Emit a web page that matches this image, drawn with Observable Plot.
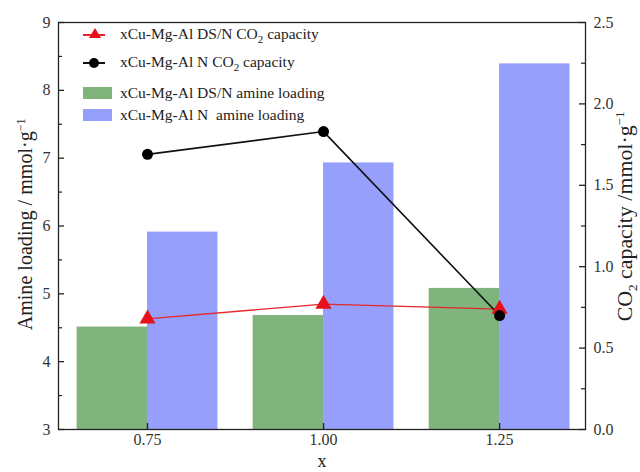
<!DOCTYPE html>
<html>
<head>
<meta charset="utf-8">
<script src="https://cdn.jsdelivr.net/npm/d3@7"></script>
<script src="https://cdn.jsdelivr.net/npm/@observablehq/plot@0.6"></script>
<style>
  html, body { margin: 0; padding: 0; background: #fff; }
  #wrap { position: relative; width: 640px; height: 472px; font-family: "Liberation Serif", "DejaVu Serif", serif; }
  #legend { position: absolute; left: 82px; top: 0px; font-size: 15.5px; color: #222; }
  .row { position: absolute; left: 0; white-space: nowrap; display: flex; align-items: center; height: 20px; }
  .row svg { margin-right: 7px; }
  .ytitle { position: absolute; color: #222; white-space: nowrap; transform-origin: center center; line-height: 1; }
</style>
</head>
<body>
<div id="wrap"></div>
<script>
// Data
const xs = [0.75, 1.00, 1.25];
const aminDSN = [4.51, 4.68, 5.08];       // green bars, amine loading (left axis)
const aminN = [5.91, 6.93, 8.39];         // blue bars, amine loading (left axis)
const co2DSN = [0.68, 0.77, 0.74];        // red triangles, CO2 capacity (right axis)
const co2N = [1.69, 1.83, 0.70];          // black circles, CO2 capacity (right axis)
const leftTicks = [3, 4, 5, 6, 7, 8, 9];
const rightTicks = [0.0, 0.5, 1.0, 1.5, 2.0, 2.5];
const xTicks = [0.75, 1.00, 1.25];

const green = "#7fb47d";
const blue = "#969ffb";
const FONT = "Liberation Serif, DejaVu Serif, serif";

const W = 640, H = 472;
const mL = 58, mR = 55, mT = 22, mB = 43;
const fw = W - mL - mR, fh = H - mT - mB;

// right axis value -> left scale
const toL = v => 3 + v * 6 / 2.5;

const barsG = xs.map((x, i) => ({x1: x - 0.1, x2: x, y: aminDSN[i]}));
const barsB = xs.map((x, i) => ({x1: x, x2: x + 0.1, y: aminN[i]}));
const red = xs.map((x, i) => ({x, v: co2DSN[i]}));
const blk = xs.map((x, i) => ({x, v: co2N[i]}));

const minorL = d3.range(3.5, 9, 1);
const rightMinor = d3.range(0.25, 2.5, 0.5);

const plot = Plot.plot({
  width: W, height: H,
  marginLeft: mL, marginRight: mR, marginTop: mT, marginBottom: mB,
  style: {fontFamily: FONT, fontSize: "16px", color: "#333", background: "white"},
  x: {domain: [0.6236, 1.372], axis: null},
  y: {domain: [3, 9], axis: null},
  marks: [
    Plot.rectY(barsG, {x1: "x1", x2: "x2", y1: 3, y2: "y", fill: green}),
    Plot.rectY(barsB, {x1: "x1", x2: "x2", y1: 3, y2: "y", fill: blue}),
    Plot.line(red, {x: "x", y: d => toL(d.v), stroke: "#e8262a", strokeWidth: 1.3}),
    Plot.line(blk, {x: "x", y: d => toL(d.v), stroke: "#111", strokeWidth: 1.6}),
    Plot.dot(red, {x: "x", y: d => toL(d.v), symbol: "triangle", r: 6, fill: "#e8101a"}),
    Plot.dot(blk, {x: "x", y: d => toL(d.v), r: 5.5, fill: "#000"}),
    // x axis
    Plot.ruleX(xTicks, {x: d => d, insetTop: fh - 6, stroke: "#222", strokeWidth: 1.3}),
    Plot.text(xTicks, {x: d => d, frameAnchor: "bottom", dy: 15, text: d => d3.format(".2f")(d), fill: "#333", fontSize: 16, fontFamily: FONT}),
    // left axis
    Plot.ruleY(leftTicks, {y: d => d, insetRight: fw - 6, stroke: "#222", strokeWidth: 1.3}),
    Plot.ruleY(minorL, {y: d => d, insetRight: fw - 4, stroke: "#222", strokeWidth: 1.2}),
    Plot.text(leftTicks, {y: d => d, frameAnchor: "left", dx: -8, textAnchor: "end", text: d => String(d), fill: "#333", fontSize: 16, fontFamily: FONT}),
    // right axis
    Plot.ruleY(rightTicks, {y: d => toL(d), insetLeft: fw - 6, stroke: "#222", strokeWidth: 1.3}),
    Plot.ruleY(rightMinor, {y: d => toL(d), insetLeft: fw - 4, stroke: "#222", strokeWidth: 1.2}),
    Plot.text(rightTicks, {y: d => toL(d), frameAnchor: "right", dx: 8, textAnchor: "start", text: d => d.toFixed(1), fill: "#333", fontSize: 16, fontFamily: FONT}),
    Plot.frame({stroke: "#222", strokeWidth: 1.3})
  ]
});

const wrap = document.getElementById("wrap");
wrap.appendChild(plot);

// x title
const xt = document.createElement("div");
xt.className = "ytitle";
xt.style.fontSize = "18px";
xt.style.left = (mL + fw / 2 - 4) + "px";
xt.style.top = "452px";
xt.textContent = "x";
wrap.appendChild(xt);

function rotTitle(html, cx, cy, target) {
  const t = document.createElement("div");
  t.className = "ytitle";
  t.style.fontSize = "20px";
  t.innerHTML = html;
  wrap.appendChild(t);
  const w0 = t.offsetWidth;
  t.style.fontSize = (20 * target / w0) + "px";
  const w = t.offsetWidth, h = t.offsetHeight;
  t.style.left = (cx - w / 2) + "px";
  t.style.top = (cy - h / 2) + "px";
  t.style.transform = "rotate(-90deg)";
}
rotTitle("Amine loading / mmol·g<sup style='font-size:0.6em'>−1</sup>", 25, 224, 212);
rotTitle("CO<sub style='font-size:0.6em'>2</sub> capacity /mmol·g<sup style='font-size:0.6em'>−1</sup>", 626, 216, 210);

// legend
const legendItems = [
  {type: "line", color: "#e8262a", marker: "tri", label: "xCu-Mg-Al DS/N CO<sub style='font-size:11px'>2</sub> capacity", cy: 35},
  {type: "line", color: "#111", marker: "dot", label: "xCu-Mg-Al N CO<sub style='font-size:11px'>2</sub> capacity", cy: 63},
  {type: "rect", color: green, label: "xCu-Mg-Al DS/N amine loading", cy: 93},
  {type: "rect", color: blue, label: "xCu-Mg-Al N&nbsp; amine loading", cy: 115}
];
const lg = document.createElement("div");
lg.id = "legend";
for (const it of legendItems) {
  const r = document.createElement("div");
  r.className = "row";
  r.style.top = (it.cy - 10) + "px";
  let sym;
  if (it.type === "line") {
    const m = it.marker === "tri"
      ? `<path d="M13,3 L19,13 L7,13 Z" fill="#e8101a"/>`
      : `<circle cx="12" cy="10" r="5" fill="#000"/>`;
    sym = `<svg width="31" height="20"><line x1="1" y1="10" x2="23" y2="10" stroke="${it.color}" stroke-width="2"/>${m}</svg>`;
  } else {
    sym = `<svg width="31" height="20"><rect x="1" y="4" width="29" height="12" fill="${it.color}"/></svg>`;
  }
  r.innerHTML = sym + `<span>${it.label}</span>`;
  lg.appendChild(r);
}
wrap.appendChild(lg);
</script>
</body>
</html>
